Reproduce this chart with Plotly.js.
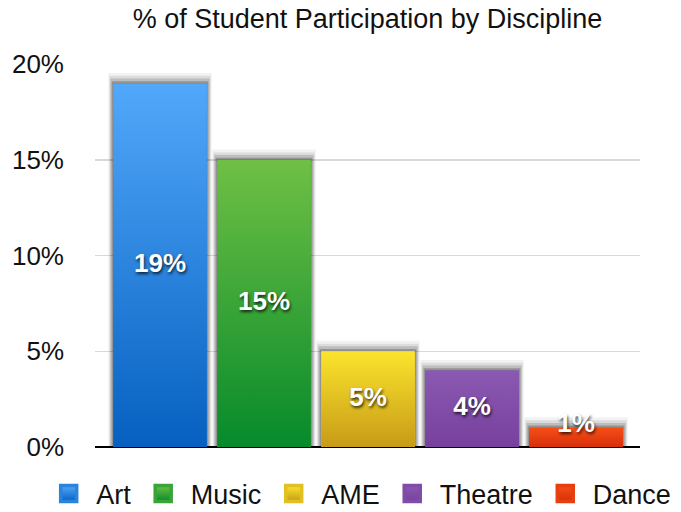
<!DOCTYPE html>
<html>
<head>
<meta charset="utf-8">
<script src="https://cdn.plot.ly/plotly-3.0.1.min.js"></script>
<style>
  html, body { margin: 0; padding: 0; background: #fff; }
  #chart { width: 681px; height: 512px; }
</style>
</head>
<body>
<div id="chart"></div>
<script>
// Disciplines and their participation share (%)
const disciplines = ['Art', 'Music', 'AME', 'Theatre', 'Dance'];
const participation = [19, 15, 5, 4, 1];

// gradient colours, top -> bottom
const topColors = ['#52a8fa', '#6fc044', '#fbe42d', '#8a59b2', '#f64e16'];
const bottomColors = ['#0560c0', '#068a2b', '#c79b17', '#77409c', '#d72f0b'];
const midColors = ['#2a83dc', '#3aa437', '#e2c022', '#814ca7', '#e73f10'];

const yTicks = [0, 5, 10, 15, 20];

const half = 0.45;
const font = 'Liberation Sans, Arial, Helvetica, sans-serif';
const traces = [];

// blurred-looking shadow behind each bar (a few translucent layers)
const shadowLayers = [
  { w: 0.995, dy: 0.55, a: 0.05 },
  { w: 0.975, dy: 0.4, a: 0.09 },
  { w: 0.955, dy: 0.26, a: 0.14 },
  { w: 0.93, dy: 0.12, a: 0.22 }
];
shadowLayers.forEach(s => {
  traces.push({
    type: 'bar', x: disciplines.map((d, i) => i), y: participation.map(v => v + s.dy),
    width: s.w, marker: { color: 'rgba(0,0,0,' + s.a + ')' },
    showlegend: false, hoverinfo: 'skip'
  });
});

// solid bars
disciplines.forEach((name, i) => {
  traces.push({
    type: 'bar', name: name, x: [i], y: [participation[i]], width: 2 * half,
    marker: { color: midColors[i], line: { width: 0 } }, showlegend: false,
    hovertemplate: name + ': %{y}%<extra></extra>'
  });
});

// gradient fills drawn over the bars
disciplines.forEach((name, i) => {
  traces.push({
    type: 'scatter', mode: 'lines', showlegend: false, hoverinfo: 'skip',
    x: [i - half, i + half, i + half, i - half, i - half],
    y: [0, 0, participation[i], participation[i], 0],
    fill: 'toself', line: { width: 0 },
    fillgradient: {
      type: 'vertical', start: 0, stop: participation[i],
      colorscale: [[0, bottomColors[i]], [1, topColors[i]]]
    }
  });
});

// value labels
traces.push({
  type: 'scatter', mode: 'text', showlegend: false, hoverinfo: 'skip',
  x: disciplines.map((d, i) => i),
  y: participation.map(v => Math.max(v / 2, 1.15)),
  text: participation.map(v => v + '%'),
  textposition: 'middle center',
  textfont: {
    family: font, size: 26, color: '#ffffff', weight: 'bold',
    shadow: '1px 2px 3px rgba(0,0,0,0.75)'
  }
});

// legend entries (square gradient swatches); nbsp padding widens the gaps
disciplines.forEach((name, i) => {
  const pad = i < disciplines.length - 1 ? '\u00a0' : '';
  traces.push({
    type: 'scatter', mode: 'markers', name: '\u00a0' + name + pad, x: [null], y: [null],
    marker: {
      symbol: 'square', size: 16, color: topColors[i],
      line: { width: 3.5, color: midColors[i] },
      gradient: { type: 'vertical', color: bottomColors[i] }
    },
    hoverinfo: 'skip'
  });
});

const layout = {
  width: 681, height: 512,
  paper_bgcolor: '#fff', plot_bgcolor: '#fff',
  margin: { l: 95, r: 41, t: 64, b: 65, autoexpand: false },
  barmode: 'overlay',
  title: {
    text: '% of Student Participation by Discipline',
    font: { family: font, size: 27, color: '#111' },
    x: 0.5, xref: 'paper', xanchor: 'center',
    y: 0.964, yref: 'container', yanchor: 'middle'
  },
  xaxis: {
    range: [-0.625, 4.615], showticklabels: false, showgrid: false,
    zeroline: false, showline: false, fixedrange: true
  },
  yaxis: {
    range: [0, 20.02], tickvals: yTicks, ticktext: yTicks.map(v => v + '%'),
    tickfont: { family: font, size: 26, color: '#111' },
    gridcolor: '#d9d9d9', gridwidth: 1.5,
    zeroline: true, zerolinecolor: '#000', zerolinewidth: 2.5,
    ticklabelstandoff: 30, showline: false, fixedrange: true
  },
  legend: {
    orientation: 'h', x: -0.085, xanchor: 'left',
    y: -0.1227, yanchor: 'middle',
    font: { family: font, size: 27, color: '#111' },
    itemclick: false, itemdoubleclick: false
  },
  showlegend: true
};

Plotly.newPlot('chart', traces, layout, { displayModeBar: false, staticPlot: true });
</script>
</body>
</html>
